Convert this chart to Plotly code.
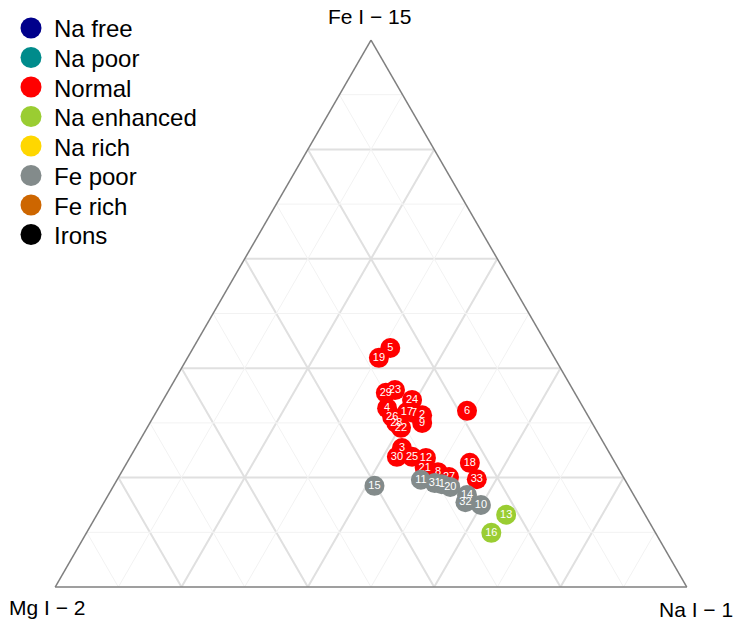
import plotly.graph_objects as go

# Legend categories and colours
categories = ["Na free", "Na poor", "Normal", "Na enhanced", "Na rich", "Fe poor", "Fe rich", "Irons"]
cat_colors = ["#00008B", "#008B8B", "#FF0000", "#9ACD32", "#FFD700", "#838B8B", "#CD6600", "#000000"]

# Meteor spectra, relative intensities (Fe I - 15, Mg I - 2, Na I - 1)
labels = [str(i) for i in range(1, 34)]
fe = [0.188, 0.314, 0.254, 0.327, 0.437, 0.322, 0.318, 0.210, 0.300, 0.150, 0.196,
      0.236, 0.132, 0.168, 0.185, 0.099, 0.320, 0.227, 0.419, 0.183, 0.218, 0.291,
      0.360, 0.342, 0.238, 0.311, 0.201, 0.300, 0.355, 0.238, 0.190, 0.155, 0.197]
na = [0.518, 0.424, 0.422, 0.362, 0.312, 0.491, 0.409, 0.501, 0.431, 0.599, 0.481,
      0.469, 0.648, 0.568, 0.413, 0.641, 0.397, 0.543, 0.303, 0.534, 0.476, 0.402,
      0.358, 0.394, 0.446, 0.378, 0.523, 0.390, 0.346, 0.422, 0.506, 0.572, 0.569]
mg = [0.294, 0.262, 0.324, 0.311, 0.251, 0.187, 0.273, 0.289, 0.269, 0.251, 0.323,
      0.295, 0.220, 0.264, 0.402, 0.260, 0.283, 0.230, 0.278, 0.283, 0.306, 0.307,
      0.282, 0.264, 0.316, 0.311, 0.276, 0.310, 0.299, 0.340, 0.304, 0.273, 0.234]
group = ["Fe poor", "Normal", "Normal", "Normal", "Normal", "Normal", "Normal", "Normal",
         "Normal", "Fe poor", "Fe poor", "Normal", "Na enhanced", "Fe poor", "Fe poor",
         "Na enhanced", "Normal", "Normal", "Normal", "Fe poor", "Normal", "Normal",
         "Normal", "Normal", "Normal", "Normal", "Normal", "Normal", "Normal", "Normal",
         "Fe poor", "Fe poor", "Normal"]

W, H = 741, 630
OFF = 8  # page body margin offsets the figure by 8px
FONT = "Liberation Sans, Arial, sans-serif"


def px(x):
    return (x - OFF) / W


def py(y):
    return 1 - (y - OFF) / H


fig = go.Figure()

# minor grid (0.1 steps) drawn as faint lines
ga, gb, gc = [], [], []
for v in [0.1, 0.3, 0.5, 0.7, 0.9]:
    ga += [v, v, None]; gb += [1 - v, 0, None]; gc += [0, 1 - v, None]
    ga += [1 - v, 0, None]; gb += [v, v, None]; gc += [0, 1 - v, None]
    ga += [1 - v, 0, None]; gb += [0, 1 - v, None]; gc += [v, v, None]
fig.add_trace(go.Scatterternary(a=ga, b=gb, c=gc, mode="lines",
                                line=dict(color="#F2F2F2", width=1),
                                hoverinfo="skip", showlegend=False))

for cat, col in zip(categories, cat_colors):
    idx = [i for i, g in enumerate(group) if g == cat]
    if not idx:
        continue
    fig.add_trace(go.Scatterternary(
        a=[fe[i] for i in idx], b=[mg[i] for i in idx], c=[na[i] for i in idx],
        text=[labels[i] for i in idx],
        mode="markers+text", textposition="middle center",
        textfont=dict(color="white", size=11, family=FONT),
        marker=dict(size=20, color=col, line=dict(width=0)),
        name=cat, showlegend=False,
    ))

axis = dict(showgrid=True, gridcolor="#E0E0E0", gridwidth=1.5, dtick=0.2, tick0=0,
            showticklabels=False, ticks="", linecolor="#7F7F7F", linewidth=1.5,
            title=dict(text=""))

fig.update_layout(
    width=W, height=H,
    margin=dict(l=0, r=0, t=0, b=0),
    paper_bgcolor="white",
    font=dict(family=FONT, color="black"),
    ternary=dict(
        sum=1,
        domain=dict(x=[px(55), px(687)], y=[py(587), py(40)]),
        bgcolor="white",
        aaxis=axis, baxis=axis, caxis=axis,
    ),
    showlegend=False,
)

# axis titles
fig.add_annotation(text="Fe I \u2212 15", x=px(369), y=py(17), xref="paper", yref="paper",
                   showarrow=False, font=dict(size=21), xanchor="center", yanchor="middle")
fig.add_annotation(text="Mg I \u2212 2", x=px(47), y=py(607), xref="paper", yref="paper",
                   showarrow=False, font=dict(size=21), xanchor="center", yanchor="middle")
fig.add_annotation(text="Na I \u2212 1", x=px(696), y=py(609), xref="paper", yref="paper",
                   showarrow=False, font=dict(size=21), xanchor="center", yanchor="middle")

# legend drawn by hand (large circle keys)
for k, (cat, col) in enumerate(zip(categories, cat_colors)):
    yc = 28 + 29.5 * k
    fig.add_shape(type="circle", xref="paper", yref="paper",
                  x0=px(31 - 10.5), x1=px(31 + 10.5),
                  y0=py(yc + 10.5), y1=py(yc - 10.5),
                  fillcolor=col, line=dict(width=0))
    fig.add_annotation(text=cat, x=px(52), y=py(yc + 1), xref="paper", yref="paper",
                       showarrow=False, font=dict(size=24), xanchor="left", yanchor="middle")

fig.write_html("out.html")
